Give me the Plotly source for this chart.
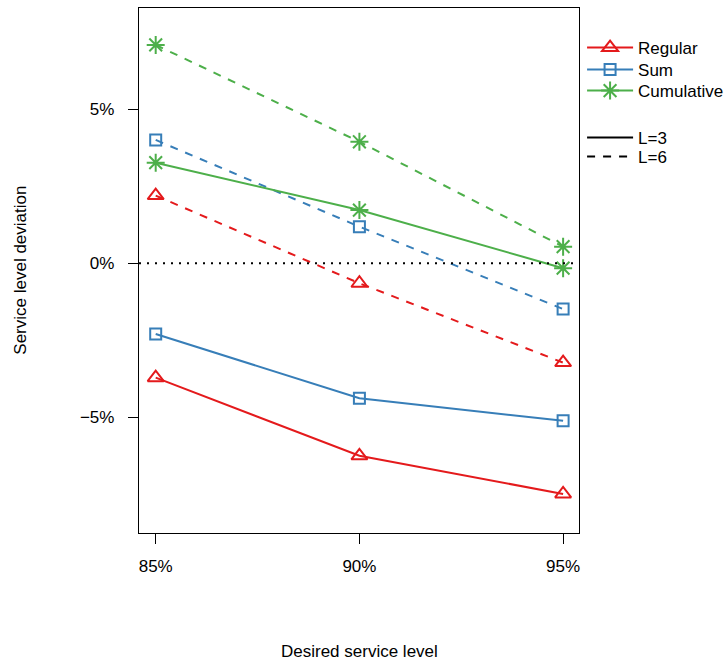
import plotly.graph_objects as go

# Desired service level (%) on the x axis
service_levels = [85, 90, 95]
x_tick_labels = ["85%", "90%", "95%"]

# Service level deviation (%) for each method and lead time
regular_l3 = [-3.72, -6.26, -7.50]
regular_l6 = [2.20, -0.65, -3.23]
sum_l3 = [-2.30, -4.39, -5.12]
sum_l6 = [4.01, 1.19, -1.49]
cumulative_l3 = [3.27, 1.73, -0.16]
cumulative_l6 = [7.10, 3.95, 0.54]

y_ticks = [-5, 0, 5]
y_tick_labels = ["\u22125%", "0%", "5%"]

methods = ["Regular", "Sum", "Cumulative"]
colors = {"Regular": "#E41A1C", "Sum": "#377EB8", "Cumulative": "#4DAF4A"}
symbols = {"Regular": "triangle-up-open", "Sum": "square-open", "Cumulative": "asterisk-open"}
sizes = {"Regular": 14, "Sum": 11, "Cumulative": 15}
series = {
    ("Regular", 3): regular_l3, ("Regular", 6): regular_l6,
    ("Sum", 3): sum_l3, ("Sum", 6): sum_l6,
    ("Cumulative", 3): cumulative_l3, ("Cumulative", 6): cumulative_l6,
}
dash_for = {3: "solid", 6: "8px,8px"}

FONT = "Liberation Sans, Arial, Helvetica, sans-serif"

fig = go.Figure()

for (method, lead), values in series.items():
    fig.add_trace(go.Scatter(
        x=service_levels, y=values, mode="lines+markers",
        line=dict(color=colors[method], width=2, dash=dash_for[lead]),
        marker=dict(symbol=symbols[method], size=sizes[method],
                    color=colors[method], line=dict(color=colors[method], width=2)),
        showlegend=False, hoverinfo="x+y",
    ))

# Legend: one single-entry legend per row so the rows sit tightly together
legend_rows = [0.9238, 0.8819, 0.8419, 0.7524, 0.7162]
legend_names = ["legend", "legend2", "legend3", "legend4", "legend5"]

for i, method in enumerate(methods):
    fig.add_trace(go.Scatter(
        x=[None], y=[None], mode="lines+markers", name=method,
        line=dict(color=colors[method], width=2),
        marker=dict(symbol=symbols[method], size=sizes[method],
                    color=colors[method], line=dict(color=colors[method], width=2)),
        legend=legend_names[i],
    ))
for j, lead in enumerate((3, 6)):
    fig.add_trace(go.Scatter(
        x=[None], y=[None], mode="lines", name=f"L={lead}",
        line=dict(color="black", width=2, dash=dash_for[lead]),
        legend=legend_names[3 + j],
    ))

legend_layout = {}
for name, ypos in zip(legend_names, legend_rows):
    legend_layout[name] = dict(
        x=1.007, xanchor="left", y=ypos, yanchor="middle",
        bgcolor="rgba(0,0,0,0)", font=dict(size=17), itemwidth=46,
    )

# Reference line at zero deviation
fig.add_shape(type="line", xref="paper", x0=0, x1=1, yref="y", y0=0, y1=0,
              line=dict(color="black", width=2, dash="2px,6px"))

fig.update_layout(
    width=728, height=665,
    margin=dict(l=139, r=149, t=8, b=132, autoexpand=False),
    paper_bgcolor="white", plot_bgcolor="white",
    font=dict(family=FONT, size=17, color="black"),
    showlegend=True,
    xaxis=dict(range=[84.59, 95.39], tickvals=service_levels, ticktext=x_tick_labels,
               showgrid=False, zeroline=False, showline=True, mirror=True,
               linecolor="black", linewidth=1.3, ticks="outside", ticklen=10,
               tickwidth=1.3, tickcolor="black", ticklabelstandoff=7),
    yaxis=dict(range=[-8.77, 8.30], tickvals=y_ticks, ticktext=y_tick_labels,
               showgrid=False, zeroline=False, showline=True, mirror=True,
               linecolor="black", linewidth=1.3, ticks="outside", ticklen=10,
               tickwidth=1.3, tickcolor="black", ticklabelstandoff=10),
    annotations=[
        dict(text="Desired service level", xref="paper", yref="paper",
             x=0.5, y=-0.225, yanchor="middle", xanchor="center", showarrow=False,
             font=dict(size=17)),
        dict(text="Service level deviation", xref="paper", yref="paper",
             x=-0.27, y=0.5, xanchor="center", yanchor="middle", textangle=-90,
             showarrow=False, font=dict(size=17)),
    ],
    **legend_layout,
)

fig.write_html("out.html")
